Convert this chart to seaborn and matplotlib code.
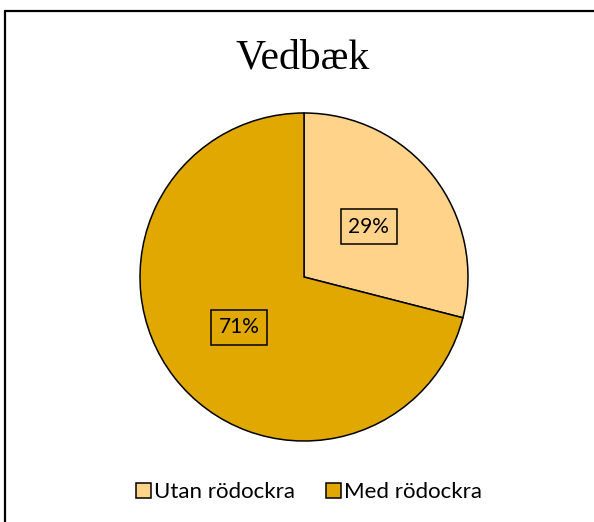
import matplotlib
matplotlib.use("Agg")
import matplotlib.pyplot as plt
import seaborn as sns
from matplotlib.lines import Line2D
from matplotlib.patches import Patch

# data
labels = ["Utan rödockra", "Med rödockra"]
values = [29, 71]
colors = ["#FFD38A", "#E0A800"]
title = "Vedbæk"

sns.set_theme(style="white")
plt.rcParams['font.family'] = ['Lato', 'DejaVu Sans']

fig = plt.figure(figsize=(5.94, 5.22), dpi=100)

# pie axes: centre (304, 277) px, radius 164 px
W, H = 594, 522
cx, cy, r = 304, 277, 164
ax = fig.add_axes([(cx - r) / W, (H - cy - r) / H, 2 * r / W, 2 * r / H])

wedges, texts, autotexts = ax.pie(
    values, colors=colors, startangle=90, counterclock=False,
    autopct="%1.0f%%", pctdistance=0.5, radius=1,
    wedgeprops=dict(edgecolor="black", linewidth=1.1),
    textprops=dict(fontsize=15, color="black"))
for t in autotexts:
    t.set_bbox(dict(boxstyle="square,pad=0.35", facecolor="none",
                    edgecolor="black", linewidth=1.1))
ax.set_xlim(-1.0, 1.0)
ax.set_ylim(-1.0, 1.0)
ax.set_aspect("equal")
ax.axis("off")

fig.text(0.51, 1 - 58 / H, title, ha="center", va="center", color="black",
         fontsize=30, family="Liberation Serif")

handles = [Patch(facecolor=c, edgecolor="black", linewidth=1.1) for c in colors]
fig.legend(handles, labels, loc="center", bbox_to_anchor=(309 / W, 1 - 492 / H),
           ncol=2, frameon=False, fontsize=16, handlelength=0.65, handleheight=0.65,
           handletextpad=0.15, columnspacing=1.4, labelcolor="black")

# outer chart border (partly cut off at right and bottom)
fig.add_artist(Line2D([5 / W, 5 / W], [0, 1 - 11 / H], transform=fig.transFigure,
                      color="black", linewidth=1.6))
fig.add_artist(Line2D([5 / W, 1], [1 - 11 / H, 1 - 11 / H], transform=fig.transFigure,
                      color="black", linewidth=1.6))

fig.savefig("out.png", dpi=100)
